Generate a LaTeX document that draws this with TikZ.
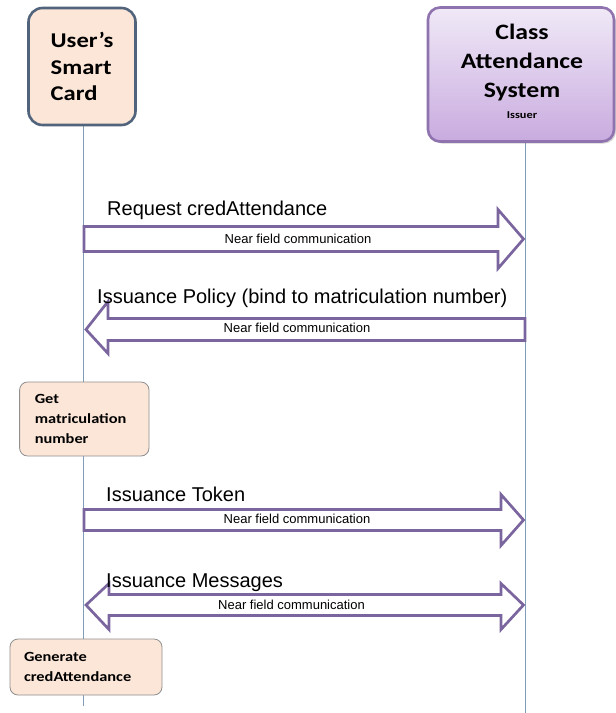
\documentclass[tikz,border=0pt]{standalone}
\usepackage{fontspec}
\usepackage{graphicx}
\setmainfont{Liberation Sans}
\newfontfamily\calfont{Carlito}
\usetikzlibrary{shadows}
\definecolor{lifeline}{HTML}{7F9CB8}
\definecolor{peach}{HTML}{FCE6D8}
\definecolor{slate}{HTML}{51647C}
\definecolor{arrowpurple}{HTML}{7A659E}
\definecolor{lavtop}{HTML}{F0E9F7}
\definecolor{lavbot}{HTML}{C9ABDF}
\definecolor{lavborder}{HTML}{8F73AF}
\definecolor{greyborder}{HTML}{8F8F8F}
\newcommand{\hx}[1]{\scalebox{1.17}[1]{#1}}
\tikzset{
  lifelinestyle/.style={draw=lifeline, line width=1pt},
  blockarrow/.style={draw=arrowpurple, line width=2.7pt, fill=white, line join=miter},
  msglabel/.style={anchor=base west, inner sep=0pt, font=\fontsize{20}{22}\selectfont},
  nfclabel/.style={anchor=base, inner sep=0pt, font=\fontsize{13}{15}\selectfont},
  actorcard/.style={draw=slate, line width=2.6pt, fill=peach, rounded corners=14pt,
    minimum width=107pt, minimum height=117pt, align=left, inner sep=0pt,
    font=\calfont\bfseries\fontsize{21}{26.7}\selectfont},
  actorsys/.style={draw=lavborder, line width=2.6pt, top color=lavtop, bottom color=lavbot,
    rounded corners=12pt, minimum width=186pt, minimum height=134pt, inner sep=0pt,
    drop shadow={shadow xshift=2pt, shadow yshift=-2pt, opacity=0.35}},
  systext/.style={align=center, inner sep=0pt,
    font=\calfont\bfseries\fontsize{22}{29}\selectfont},
  actionbox/.style={draw=greyborder, line width=0.8pt, fill=peach, rounded corners=8pt,
    align=left, inner sep=0pt, anchor=center,
    font=\calfont\bfseries\fontsize{14}{20}\selectfont}
}
\begin{document}
\begin{tikzpicture}[x=1pt,y=-1pt]
\useasboundingbox (0,0) rectangle (616,713);
\fill[white] (0,0) rectangle (616,713);
% lifelines
\coordinate (Ltop) at (83.5,125);
\coordinate (Lbot) at (83.5,706);
\coordinate (Rtop) at (525.5,140);
\coordinate (Rbot) at (525.5,713);
\draw[lifelinestyle] (Ltop) -- (Lbot);
\draw[lifelinestyle] (Rtop) -- (Rbot);
% actors
\node[actorcard] (card) at (82,66.5) {\hx{User’s}\\\hx{Smart}\\\hx{Card}};
\node[actorsys] (sys) at (521,74.5) {};
\node[systext] (systxt) at (522,71) {\hx{Class}\\\hx{Attendance}\\\hx{System}\\[-8pt]{\fontsize{10.5}{12}\selectfont\hx{Issuer}}};
% arrow 1 (right)
\draw[blockarrow] (84,226.5) -- (498,226.5) -- (498,209.5) -- (523.5,239) -- (498,268.5) -- (498,251.5) -- (84,251.5) -- cycle;
% arrow 2 (left)
\draw[blockarrow] (525,318.5) -- (108,318.5) -- (108,301.5) -- (86,329.5) -- (108,353.5) -- (108,340.5) -- (525,340.5) -- cycle;
% arrow 3 (right)
\draw[blockarrow] (84,509.5) -- (501,509.5) -- (501,494.5) -- (523.5,520) -- (501,545.5) -- (501,530.5) -- (84,530.5) -- cycle;
% arrow 4 (double)
\draw[blockarrow] (109,594.5) -- (501,594.5) -- (501,583.5) -- (523.5,605) -- (501,629.5) -- (501,615.5) -- (109,615.5) -- (109,629.5) -- (86,605) -- (109,583.5) -- cycle;
% labels
\node[msglabel] (m1) at (107,215) {Request credAttendance};
\node[nfclabel] (n1) at (298,243.3) {Near field communication};
\node[msglabel] (m2) at (97,303) {Issuance Policy (bind to matriculation number)};
\node[nfclabel] (n2) at (297,332.7) {Near field communication};
\node[msglabel] (m3) at (106,501.7) {Issuance Token};
\node[nfclabel] (n3) at (297,523.3) {Near field communication};
\node[msglabel] (m4) at (106,587) {Issuance Messages};
\node[nfclabel] (n4) at (291.5,609.3) {Near field communication};
% actions
\node[actionbox, minimum width=129.4pt, minimum height=74pt, text width=99pt] (getm) at (84.3,419) {\hx{Get}\\\hx{matriculation}\\\hx{number}};
\node[actionbox, minimum width=152pt, minimum height=56pt, text width=124pt] (gen) at (86,667) {\hx{Generate}\\\hx{credAttendance}};
\end{tikzpicture}
\end{document}
